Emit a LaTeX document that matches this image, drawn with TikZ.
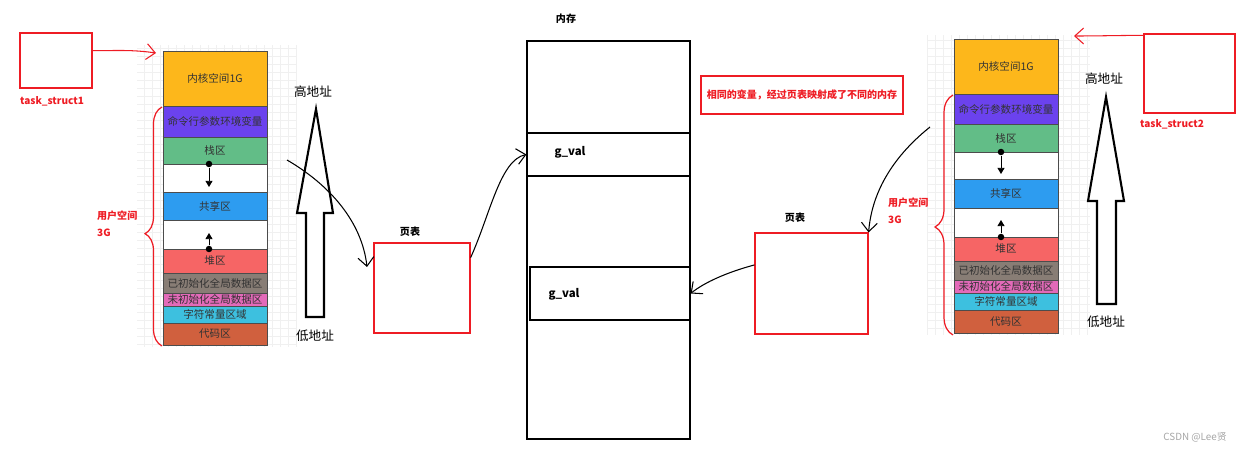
\documentclass[tikz,border=0pt]{standalone}
\usepackage{fontspec}
\setmainfont{Noto Sans CJK SC}
\usetikzlibrary{arrows.meta,
                decorations.pathreplacing
            }

\definecolor{kernc}{HTML}{FDB71B}
\definecolor{argc}{HTML}{6B42EE}
\definecolor{stackc}{HTML}{62BD87}
\definecolor{sharec}{HTML}{2D9CF0}
\definecolor{heapc}{HTML}{F66565}
\definecolor{initc}{HTML}{887D75}
\definecolor{uninitc}{HTML}{E36AB9}
\definecolor{constc}{HTML}{3DC0DF}
\definecolor{codec}{HTML}{D0603E}
\definecolor{redline}{HTML}{EE1C24}

\tikzset{
    seg/.style={draw=gray!60!black, line width=0.4pt, minimum width=2.08cm,
                inner sep=0pt, text=black!80, font=\fontsize{6}{7}\selectfont},
    redbox/.style={draw=redline, line width=0.7pt},
    hand/.style={line width=0.6pt, -{Straight Barb[length=5pt,width=9pt]}},
    redhand/.style={hand, draw=redline},
    dot/.style={circle, fill=black, inner sep=0pt, minimum size=0.13cm},
    gaparrow/.style={line width=0.5pt, -{Triangle[length=3.5pt,width=4pt]}},
    bigarrow/.style={draw=black, line width=1.2pt, fill=white},
    lbl/.style={font=\bfseries\fontsize{5.7}{7}\selectfont},
    redlbl/.style={lbl, text=redline},
    addr/.style={font=\fontsize{7.2}{8}\selectfont}
}

\begin{document}
\begin{tikzpicture}[x=0.02cm, y=-0.02cm]
            \useasboundingbox (0,0) rectangle (1243,452);
            % faint grid behind both stacks
            \draw[gray!12, step=0.16cm] (137,45) grid (297,347);
            \draw[gray!12, step=0.16cm] (927,35) grid (1090,335);

            % process 1
            \node[redbox, minimum width=1.44cm, minimum height=1.1cm] (ts1) at (56,60.5) {};
            \node[redlbl] (ts1l) at (52,101) {task\_struct1};
            \node[seg, fill=kernc, minimum height=1.10cm] (k1) at (215,78.5) {内核空间1G};
            \node[seg, fill=argc, minimum height=0.62cm] (a1) at (215,121.5) {命令行参数环境变量};
            \node[seg, fill=stackc, minimum height=0.54cm] (s1) at (215,150.5) {栈区};
            \node[seg, fill=white, minimum height=0.56cm] (w1a) at (215,178) {};
            \node[seg, fill=sharec, minimum height=0.56cm] (sh1) at (215,206) {共享区};
            \node[seg, fill=white, minimum height=0.58cm] (w1b) at (215,234.5) {};
            \node[seg, fill=heapc, minimum height=0.48cm] (h1) at (215,261) {堆区};
            \node[seg, fill=initc, minimum height=0.40cm] (i1) at (215,283) {已初始化全局数据区};
            \node[seg, fill=uninitc, minimum height=0.26cm] (u1) at (215,299.5) {未初始化全局数据区};
            \node[seg, fill=constc, minimum height=0.34cm] (c1) at (215,314.5) {字符常量区域};
            \node[seg, fill=codec, minimum height=0.44cm] (cd1) at (215,334) {代码区};
            \node[dot] (d1a) at (209,164) {};
            \node[dot] (d1b) at (209,249) {};
            \coordinate (d1ae) at (209,187);
            \coordinate (d1be) at (209,233);
            \draw[gaparrow] (d1a) -- (d1ae);
            \draw[gaparrow] (d1b) -- (d1be);
            \coordinate (k1in) at (156,53);
            \draw[redhand] (ts1.15) to[out=0, in=172] (k1in);
            \draw[redline, line width=0.7pt, decorate, decoration={brace, amplitude=0.34cm, aspect=0.47}]
                (162,346) -- (162,107);
            \node[redlbl, align=left, anchor=west, font=\bfseries\fontsize{5.7}{9.8}\selectfont] (us1) at (91,224) {用户空间\\3G};
            \draw[bigarrow] (316,109) -- (333,213) -- (324,213) -- (324,317)
                -- (306,317) -- (306,213) -- (297,213) -- cycle;
            \node[addr] (hi1) at (313,92) {高地址};
            \node[addr] (lo1) at (315,336) {低地址};

            % page table 1
            \node[redbox, minimum width=1.92cm, minimum height=1.8cm] (pt1) at (422,288) {};
            \node[lbl] (pt1l) at (410,232) {页表};
            \coordinate (hs1) at (287,160);
            \draw[hand] (hs1) .. controls (330,185) and (362,222) .. (367,267);

            % memory
            \node[draw, line width=0.7pt, minimum width=3.26cm, minimum height=7.96cm] (mem) at (608.5,240) {};
            \node[lbl] (meml) at (566,19) {内存};
            \node[draw, line width=0.7pt, minimum width=3.26cm, minimum height=0.86cm] (g1) at (608.5,154.5) {};
            \node[draw, line width=0.7pt, minimum width=3.2cm, minimum height=1.06cm] (g2) at (610,293.5) {};
            \node[lbl, font=\bfseries\fontsize{6.5}{7}\selectfont] (g1l) at (570,152) {g\_val};
            \node[lbl, font=\bfseries\fontsize{6.5}{7}\selectfont] (g2l) at (564,294) {g\_val};
            \draw[hand] (pt1.32) .. controls (490,215) and (500,160) .. (g1.west);

            % note
            \node[redbox, minimum width=3.96cm, minimum height=0.76cm, redlbl] (note) at (802,95)
                {相同的变量，经过页表映射成了不同的内存};

            % page table 2
            \node[redbox, minimum width=2.26cm, minimum height=2.02cm] (pt2) at (811.5,283.5) {};
            \node[lbl] (pt2l) at (795,218) {页表};
            \draw[hand] (pt2.162) .. controls (728,272) and (705,282) .. (g2.east);
            \coordinate (hs2) at (930,127);
            \draw[hand] (hs2) .. controls (895,155) and (872,190) .. (pt2.north east);

            % process 2
            \node[seg, fill=kernc, minimum height=1.10cm] (k2) at (1006,66.5) {内核空间1G};
            \node[seg, fill=argc, minimum height=0.60cm] (a2) at (1006,109) {命令行参数环境变量};
            \node[seg, fill=stackc, minimum height=0.56cm] (s2) at (1006,138) {栈区};
            \node[seg, fill=white, minimum height=0.54cm] (w2a) at (1006,165.5) {};
            \node[seg, fill=sharec, minimum height=0.58cm] (sh2) at (1006,193.5) {共享区};
            \node[seg, fill=white, minimum height=0.58cm] (w2b) at (1006,222.5) {};
            \node[seg, fill=heapc, minimum height=0.48cm] (h2) at (1006,249) {堆区};
            \node[seg, fill=initc, minimum height=0.38cm] (i2) at (1006,270.5) {已初始化全局数据区};
            \node[seg, fill=uninitc, minimum height=0.26cm] (u2) at (1006,286.5) {未初始化全局数据区};
            \node[seg, fill=constc, minimum height=0.34cm] (c2) at (1006,301.5) {字符常量区域};
            \node[seg, fill=codec, minimum height=0.46cm] (cd2) at (1006,321.5) {代码区};
            \node[dot] (d2a) at (1001,152) {};
            \node[dot] (d2b) at (1001,237) {};
            \coordinate (d2ae) at (1001,174);
            \coordinate (d2be) at (1001,220);
            \draw[gaparrow] (d2a) -- (d2ae);
            \draw[gaparrow] (d2b) -- (d2be);
            \draw[redline, line width=0.7pt, decorate, decoration={brace, amplitude=0.36cm, aspect=0.45}]
                (953,335) -- (953,95);
            \node[redlbl, align=left, anchor=west, font=\bfseries\fontsize{5.7}{9.8}\selectfont] (us2) at (882,211) {用户空间\\3G};
            \draw[bigarrow] (1106,97) -- (1124,201) -- (1116,201) -- (1116,304)
                -- (1097,304) -- (1097,201) -- (1088,201) -- cycle;
            \node[addr] (hi2) at (1104,79) {高地址};
            \node[addr] (lo2) at (1106,322) {低地址};
            \node[redbox, minimum width=1.82cm, minimum height=1.58cm] (ts2) at (1189.5,73.5) {};
            \node[redlbl] (ts2l) at (1172,124) {task\_struct2};
            \coordinate (k2in) at (1074,36);
            \draw[redhand] (ts2.north west) ++(0,2) to[out=180, in=0] (k2in);

            \node[text=gray!70, font=\fontsize{5.6}{7}\selectfont] (wm) at (1195,437) {CSDN @Lee贤};
        \end{tikzpicture}
\end{document}
